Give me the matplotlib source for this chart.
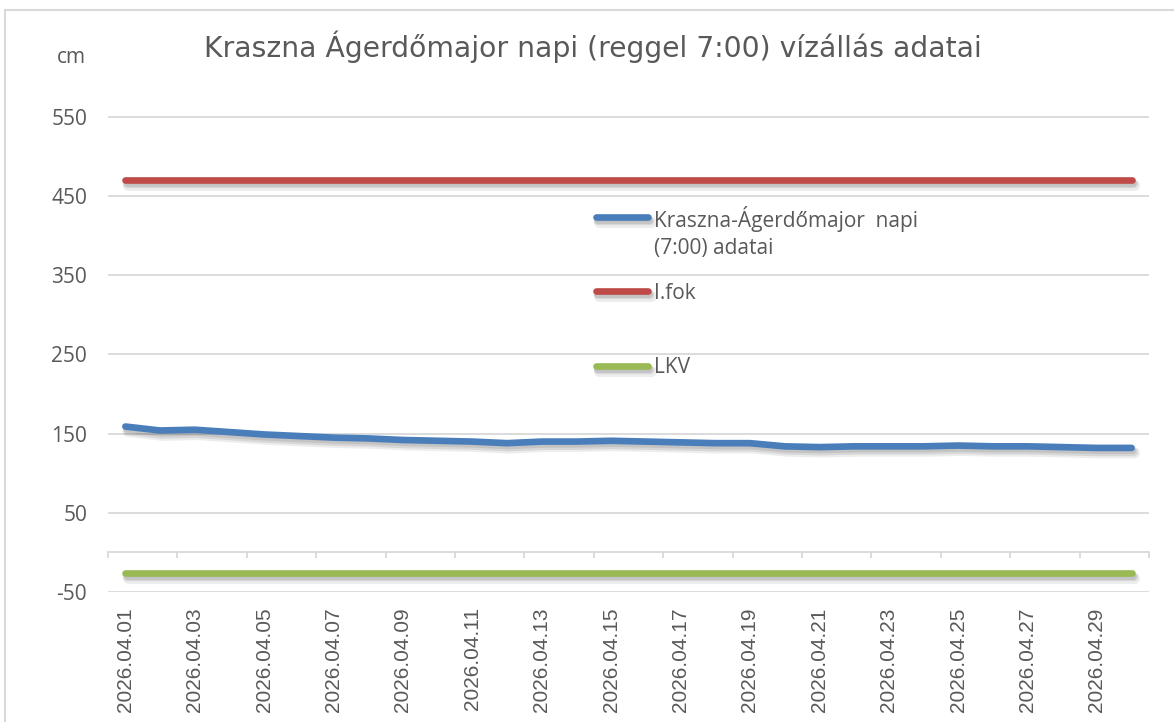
import matplotlib
matplotlib.use("Agg")
import matplotlib.pyplot as plt
import matplotlib.patheffects as pe
from matplotlib.lines import Line2D
from matplotlib.patches import Rectangle

plt.rcParams["axes.unicode_minus"] = False

# Daily 7:00 readings at Kraszna, Ágerdőmajor (cm), April 2026
dates = [f"2026.04.{d:02d}" for d in range(1, 31)]
level = [159, 154, 155, 152, 149, 147, 145, 144, 142, 141,
         140, 138, 140, 140, 141, 140, 139, 138, 138, 134,
         133, 134, 134, 134, 135, 134, 134, 133, 132, 132]
ifok = [470] * len(dates)   # I. fokú készültség
lkv = [-26] * len(dates)    # legkisebb vízállás

series_labels = ["Kraszna-Ágerdőmajor  napi\n(7:00) adatai", "I.fok", "LKV"]
colors = ["#4a7ebb", "#be4b48", "#98b954"]
yticks = [-50, 50, 150, 250, 350, 450, 550]

TEXT = "#595959"
GRID = "#d9d9d9"
W, H = 1174, 722

fig = plt.figure(figsize=(W / 100, H / 100), dpi=100)
ax = fig.add_axes([108 / W, 1 - 592 / H, (1149 - 108) / W, (592 - 77.4) / H])

# chart frame
fig.patches.append(Rectangle((5 / W, -0.05), 1.1, 1 - 10 / H + 0.05,
                             transform=fig.transFigure, fill=False,
                             edgecolor=GRID, lw=1.5, zorder=0))

x = list(range(len(dates)))
# soft drop shadow under each line
shadow = [pe.SimpleLineShadow(offset=(2, -3.5), shadow_color="#000000", alpha=0.07, linewidth=8),
          pe.SimpleLineShadow(offset=(1.5, -3), shadow_color="#000000", alpha=0.09, linewidth=6),
          pe.SimpleLineShadow(offset=(1, -2), shadow_color="#000000", alpha=0.09),
          pe.Normal()]
for vals, col in zip([level, ifok, lkv], colors):
    ax.plot(x, vals, color=col, lw=4.8, solid_capstyle="round",
            solid_joinstyle="round", path_effects=shadow, zorder=3)

ax.set_xlim(-0.5, len(dates) - 0.5)
ax.set_ylim(-50, 600)
ax.set_yticks(yticks)
ax.yaxis.grid(True, color=GRID, lw=1.3)
ax.set_axisbelow(True)
for s in ax.spines.values():
    s.set_visible(False)
ax.tick_params(axis="y", length=0, pad=15, labelcolor=TEXT)
for t in ax.get_yticklabels():
    t.set_fontfamily("Open Sans")
    t.set_fontsize(15)

ax.set_xticks(x[::2])
ax.set_xticklabels(dates[::2], rotation=90, fontfamily="Liberation Sans",
                   fontsize=15, color=TEXT)
ax.tick_params(axis="x", length=0, pad=11)

# category axis crossing at 0 with tick marks between categories
zero_pos = (0 - (-50)) / (600 - (-50))
sec = ax.secondary_xaxis(zero_pos)
sec.set_xticks([i - 0.5 for i in range(0, len(dates) + 1, 2)])
sec.set_xticklabels([])
sec.tick_params(axis="x", direction="out", length=4.5, width=1.3, color=GRID)
sec.spines["bottom"].set_color(GRID)
sec.spines["bottom"].set_linewidth(1.3)
sec.spines["bottom"].set_zorder(1)

# title and unit
fig.text(593 / W, 1 - 57 / H, "Kraszna Ágerdőmajor napi (reggel 7:00) vízállás adatai",
         ha="center", va="baseline", fontfamily="DejaVu Sans", fontsize=20.3, color=TEXT)
fig.text(71 / W, 1 - 63 / H, "cm", ha="center", va="baseline",
         fontfamily="Open Sans", fontsize=15, color=TEXT)

# legend
handle_y = [217, 291, 366]
text_base = [254, 299, 373]   # baseline of each label's last line
for lab, col, hy, ty in zip(series_labels, colors, handle_y, text_base):
    fig.lines.append(Line2D([596 / W, 648 / W], [1 - hy / H, 1 - hy / H],
                            transform=fig.transFigure, color=col, lw=4.8,
                            solid_capstyle="round", path_effects=shadow))
    fig.text(654 / W, 1 - ty / H, lab, ha="left", va="baseline",
             fontfamily="Open Sans", fontsize=15, color=TEXT, linespacing=1.35)

fig.savefig("out.png", dpi=100)
